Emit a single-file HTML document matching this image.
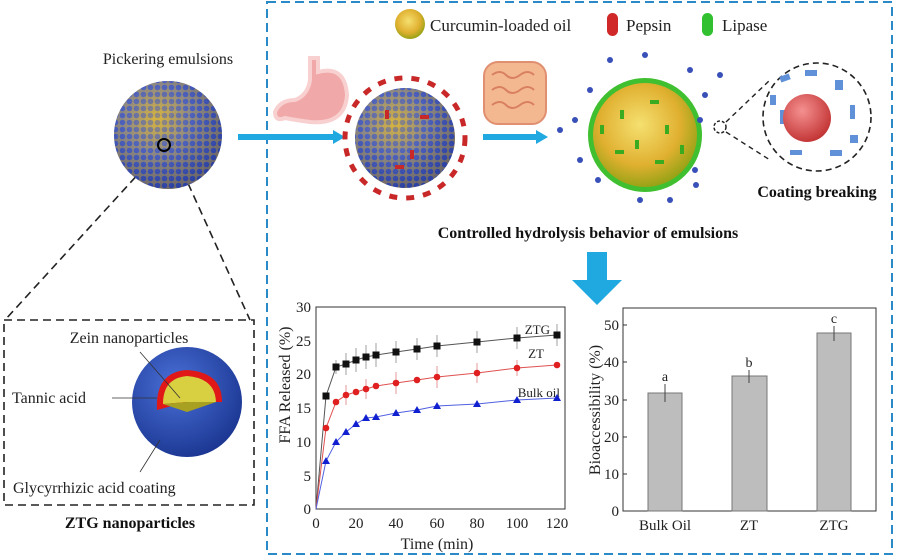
<!DOCTYPE html>
<html><head><meta charset="utf-8"><style>
html,body{margin:0;padding:0;background:#fff}
svg{display:block;font-family:"Liberation Serif",serif}
</style></head><body>
<svg width="897" height="558" viewBox="0 0 897 558" xmlns="http://www.w3.org/2000/svg">
<defs>
<radialGradient id="blue" cx="40%" cy="35%" r="70%"><stop offset="0" stop-color="#e8c040"/><stop offset="0.45" stop-color="#6070c0"/><stop offset="1" stop-color="#1e2f8a"/></radialGradient>
<pattern id="dots" width="7" height="7" patternUnits="userSpaceOnUse"><rect width="7" height="7" fill="#c8a838"/><circle cx="3.5" cy="3.5" r="2.8" fill="#3850b8"/></pattern>
<radialGradient id="yel" cx="45%" cy="40%" r="65%"><stop offset="0" stop-color="#f5e070"/><stop offset="0.6" stop-color="#e0b030"/><stop offset="1" stop-color="#88a010"/></radialGradient>
<radialGradient id="red" cx="40%" cy="35%" r="70%"><stop offset="0" stop-color="#f59090"/><stop offset="1" stop-color="#c03030"/></radialGradient>
<radialGradient id="bs" cx="40%" cy="35%" r="70%"><stop offset="0" stop-color="#4a70d8"/><stop offset="1" stop-color="#1a3590"/></radialGradient>
</defs>
<rect x="267" y="2" width="625" height="552" fill="none" stroke="#2a8ac8" stroke-width="2" stroke-dasharray="9,5"/>
<rect x="4" y="320" width="250" height="185" fill="none" stroke="#222" stroke-width="1.6" stroke-dasharray="8,5"/>
<line x1="162" y1="148" x2="5" y2="320" stroke="#222" stroke-width="1.6" stroke-dasharray="8,5"/>
<line x1="172" y1="148" x2="250" y2="320" stroke="#222" stroke-width="1.6" stroke-dasharray="8,5"/>
<circle cx="410" cy="24" r="15" fill="url(#yel)"/>
<text x="430" y="31" font-size="17" fill="#222">Curcumin-loaded oil</text>
<rect x="607" y="13" width="11" height="23" rx="5.5" fill="#d02828"/>
<text x="626" y="31" font-size="17" fill="#222">Pepsin</text>
<rect x="702" y="13" width="11" height="23" rx="5.5" fill="#30c030"/>
<text x="722" y="31" font-size="17" fill="#222">Lipase</text>
<text x="168" y="64" font-size="16" text-anchor="middle" fill="#222">Pickering emulsions</text>
<circle cx="168" cy="135" r="54" fill="url(#dots)"/>
<circle cx="168" cy="135" r="54" fill="url(#blue)" opacity="0.55"/>
<circle cx="164" cy="145" r="6" fill="none" stroke="#000" stroke-width="2"/>
<rect x="238" y="134" width="95" height="6" fill="#20a8e0"/><polygon points="333,130 345,137 333,144" fill="#20a8e0"/>
<rect x="483" y="134" width="55" height="6" fill="#20a8e0"/><polygon points="536,130 548,137 536,144" fill="#20a8e0"/>
<path d="M310,58 L318,58 L318,72 Q345,65 347,95 Q345,125 310,122 Q295,120 285,118 Q275,122 275,112 Q280,100 295,100 Q308,95 310,80 Z" fill="#f0a8a8" stroke="#f8d0d0" stroke-width="4"/>
<circle cx="405" cy="138" r="60" fill="none" stroke="#c82828" stroke-width="5" stroke-dasharray="8,9"/>
<circle cx="405" cy="138" r="50" fill="url(#dots)"/>
<circle cx="405" cy="138" r="50" fill="url(#blue)" opacity="0.55"/>
<g fill="#c82828"><rect x="385" y="110" width="4" height="9"/><rect x="420" y="115" width="9" height="4"/><rect x="410" y="150" width="4" height="9"/><rect x="395" y="165" width="9" height="4"/></g>
<rect x="484" y="62" width="62" height="62" rx="14" fill="#f4b890" stroke="#e09070" stroke-width="2"/>
<path d="M492,75 q8,-6 14,0 t14,0 t14,0 M492,90 q8,-6 14,0 t14,0 t14,0 M492,105 q8,-6 14,0 t14,0 t14,0" fill="none" stroke="#d88060" stroke-width="2"/>
<circle cx="645" cy="135" r="57" fill="#40c030"/>
<circle cx="645" cy="135" r="52" fill="url(#yel)"/>
<g fill="#3aaa20">
<rect x="620" y="110" width="4" height="9"/><rect x="650" y="100" width="9" height="4"/><rect x="635" y="140" width="4" height="9"/><rect x="665" y="125" width="4" height="9"/><rect x="615" y="150" width="9" height="4"/><rect x="655" y="160" width="9" height="4"/><rect x="600" y="125" width="4" height="9"/><rect x="680" y="145" width="4" height="9"/></g>
<g fill="#3850b8">
<circle cx="590" cy="90" r="3"/><circle cx="610" cy="60" r="3"/><circle cx="645" cy="55" r="3"/><circle cx="690" cy="70" r="3"/><circle cx="705" cy="95" r="3"/><circle cx="700" cy="120" r="3"/><circle cx="575" cy="120" r="3"/><circle cx="580" cy="160" r="3"/><circle cx="598" cy="180" r="3"/><circle cx="640" cy="200" r="3"/><circle cx="670" cy="200" r="3"/><circle cx="696" cy="185" r="3"/><circle cx="560" cy="130" r="3"/><circle cx="720" cy="75" r="3"/><circle cx="695" cy="170" r="3"/></g>
<circle cx="817" cy="117" r="54" fill="none" stroke="#222" stroke-width="1.6" stroke-dasharray="6,4"/>
<circle cx="720" cy="127" r="6" fill="none" stroke="#222" stroke-width="1.5" stroke-dasharray="3,2"/>
<line x1="726" y1="122" x2="770" y2="80" stroke="#222" stroke-width="1.4" stroke-dasharray="5,4"/>
<line x1="726" y1="132" x2="770" y2="160" stroke="#222" stroke-width="1.4" stroke-dasharray="5,4"/>
<g fill="#6090d8"><rect x="780" y="75" width="10" height="6" transform="rotate(-20 785 78)"/><rect x="805" y="70" width="12" height="6"/><rect x="835" y="80" width="8" height="10"/><rect x="850" y="105" width="5" height="14"/><rect x="780" y="110" width="5" height="14"/><rect x="790" y="150" width="12" height="5"/><rect x="830" y="150" width="12" height="6"/><rect x="850" y="135" width="8" height="8"/><rect x="770" y="95" width="6" height="10"/></g>
<circle cx="807" cy="118" r="24" fill="url(#red)"/>
<text x="817" y="197" font-size="16" font-weight="bold" text-anchor="middle" fill="#111">Coating breaking</text>
<text x="588" y="238" font-size="16" font-weight="bold" text-anchor="middle" fill="#111">Controlled hydrolysis behavior of emulsions</text>
<rect x="587" y="252" width="20" height="30" fill="#20a8e0"/><polygon points="572,280 622,280 597,305" fill="#20a8e0"/>
<text x="129" y="343" font-size="16" text-anchor="middle" fill="#222">Zein nanoparticles</text>
<text x="12" y="403" font-size="16" fill="#222">Tannic acid</text>
<text x="13" y="493" font-size="16" fill="#222">Glycyrrhizic acid coating</text>
<text x="130" y="528" font-size="16" font-weight="bold" text-anchor="middle" fill="#111">ZTG nanoparticles</text>
<circle cx="187" cy="402" r="55" fill="url(#bs)"/>
<path d="M157,410 Q155,372 187,370 Q222,372 222,402 L187,402 Z" fill="#e01818"/>
<path d="M163,404 Q163,378 187,376 Q215,378 216,402 L187,402 Z" fill="#d8d040"/>
<path d="M163,404 L187,402 L216,402 L187,412 Z" fill="#a8a020"/>
<g stroke="#333" stroke-width="0.8" fill="none"><line x1="180" y1="398" x2="140" y2="352"/><line x1="157" y1="398" x2="112" y2="398"/><line x1="160" y1="440" x2="140" y2="472"/></g>
<!-- line chart -->
<g font-size="15" fill="#222">
<rect x="316" y="307" width="249" height="202" fill="none" stroke="#333" stroke-width="1"/>
<g text-anchor="end"><text x="311" y="514">0</text><text x="311" y="481">5</text><text x="311" y="447">10</text><text x="311" y="413">15</text><text x="311" y="379">20</text><text x="311" y="346">25</text><text x="311" y="312">30</text></g>
<g text-anchor="middle"><text x="316" y="528">0</text><text x="356" y="528">20</text><text x="396" y="528">40</text><text x="437" y="528">60</text><text x="477" y="528">80</text><text x="517" y="528">100</text><text x="557" y="528">120</text></g>
<text x="437" y="549" text-anchor="middle" font-size="16">Time (min)</text>
<text transform="translate(290 385) rotate(-90)" text-anchor="middle" font-size="16">FFA Released (%)</text>
<text x="550" y="334" font-size="13" text-anchor="end">ZTG</text>
<text x="544" y="358" font-size="13" text-anchor="end">ZT</text>
<text x="560" y="397" font-size="13" text-anchor="end">Bulk oil</text>
</g>
<polyline fill="none" stroke="#555" stroke-width="1" points="316,509 326,396 336,367 346,364 356,360 366,357 376,355 396,352 417,349 437,346 477,342 517,338 557,335"/>
<polyline fill="none" stroke="#e05050" stroke-width="1" points="316,509 326,428 336,402 346,395 356,392 366,389 376,386 396,383 417,380 437,377 477,373 517,368 557,365"/>
<polyline fill="none" stroke="#5060e0" stroke-width="1" points="316,509 326,461 336,442 346,432 356,424 366,418 376,417 396,413 417,410 437,406 477,404 517,400 557,398"/>
<g stroke="#888" stroke-width="0.8"><line x1="336" y1="360" x2="336" y2="374"/><line x1="346" y1="353" x2="346" y2="375"/><line x1="356" y1="348" x2="356" y2="372"/><line x1="366" y1="345" x2="366" y2="369"/><line x1="376" y1="343" x2="376" y2="367"/><line x1="396" y1="341" x2="396" y2="363"/><line x1="417" y1="338" x2="417" y2="360"/><line x1="437" y1="335" x2="437" y2="357"/><line x1="477" y1="331" x2="477" y2="353"/><line x1="517" y1="327" x2="517" y2="349"/><line x1="557" y1="324" x2="557" y2="346"/></g>
<g stroke="#e08080" stroke-width="0.8"><line x1="346" y1="385" x2="346" y2="405"/><line x1="366" y1="379" x2="366" y2="399"/><line x1="396" y1="372" x2="396" y2="394"/><line x1="437" y1="366" x2="437" y2="388"/><line x1="477" y1="363" x2="477" y2="383"/><line x1="517" y1="360" x2="517" y2="376"/></g>
<g fill="#111"><rect x="322.5" y="392.5" width="7" height="7"/><rect x="332.5" y="363.5" width="7" height="7"/><rect x="342.5" y="360.5" width="7" height="7"/><rect x="352.5" y="356.5" width="7" height="7"/><rect x="362.5" y="353.5" width="7" height="7"/><rect x="372.5" y="351.5" width="7" height="7"/><rect x="392.5" y="348.5" width="7" height="7"/><rect x="413.5" y="345.5" width="7" height="7"/><rect x="433.5" y="342.5" width="7" height="7"/><rect x="473.5" y="338.5" width="7" height="7"/><rect x="513.5" y="334.5" width="7" height="7"/><rect x="553.5" y="331.5" width="7" height="7"/></g>
<g fill="#e02020"><circle cx="326" cy="428" r="3.3"/><circle cx="336" cy="402" r="3.3"/><circle cx="346" cy="395" r="3.3"/><circle cx="356" cy="392" r="3.3"/><circle cx="366" cy="389" r="3.3"/><circle cx="376" cy="386" r="3.3"/><circle cx="396" cy="383" r="3.3"/><circle cx="417" cy="380" r="3.3"/><circle cx="437" cy="377" r="3.3"/><circle cx="477" cy="373" r="3.3"/><circle cx="517" cy="368" r="3.3"/><circle cx="557" cy="365" r="3.3"/></g>
<g fill="#1020d0"><polygon points="326,457 322,464 330,464"/><polygon points="336,438 332,445 340,445"/><polygon points="346,428 342,435 350,435"/><polygon points="356,420 352,427 360,427"/><polygon points="366,414 362,421 370,421"/><polygon points="376,413 372,420 380,420"/><polygon points="396,409 392,416 400,416"/><polygon points="417,406 413,413 421,413"/><polygon points="437,402 433,409 441,409"/><polygon points="477,400 473,407 481,407"/><polygon points="517,396 513,403 521,403"/><polygon points="557,394 553,401 561,401"/></g>
<!-- bar chart -->
<g font-size="15" fill="#222">
<rect x="623" y="308" width="253" height="203" fill="none" stroke="#333" stroke-width="1"/>
<g stroke="#333"><line x1="623" y1="474" x2="627" y2="474"/><line x1="623" y1="437" x2="627" y2="437"/><line x1="623" y1="400" x2="627" y2="400"/><line x1="623" y1="362" x2="627" y2="362"/><line x1="623" y1="325" x2="627" y2="325"/></g>
<g text-anchor="end"><text x="619" y="516">0</text><text x="619" y="479">10</text><text x="619" y="442">20</text><text x="619" y="405">30</text><text x="619" y="367">40</text><text x="619" y="330">50</text></g>
<g text-anchor="middle"><text x="665" y="530">Bulk Oil</text><text x="749" y="530">ZT</text><text x="834" y="530">ZTG</text></g>
<text transform="translate(600 410) rotate(-90)" text-anchor="middle" font-size="16">Bioaccessibility (%)</text>
<rect x="648" y="393" width="34" height="118" fill="#bdbdbd" stroke="#777"/>
<rect x="732" y="376" width="35" height="135" fill="#bdbdbd" stroke="#777"/>
<rect x="817" y="333" width="34" height="178" fill="#bdbdbd" stroke="#777"/>
<g stroke="#444"><line x1="665" y1="384" x2="665" y2="402"/><line x1="749" y1="370" x2="749" y2="383"/><line x1="834" y1="326" x2="834" y2="341"/></g>
<g text-anchor="middle" font-size="14"><text x="665" y="381">a</text><text x="749" y="367">b</text><text x="834" y="323">c</text></g>
</g>
</svg>
</body></html>
